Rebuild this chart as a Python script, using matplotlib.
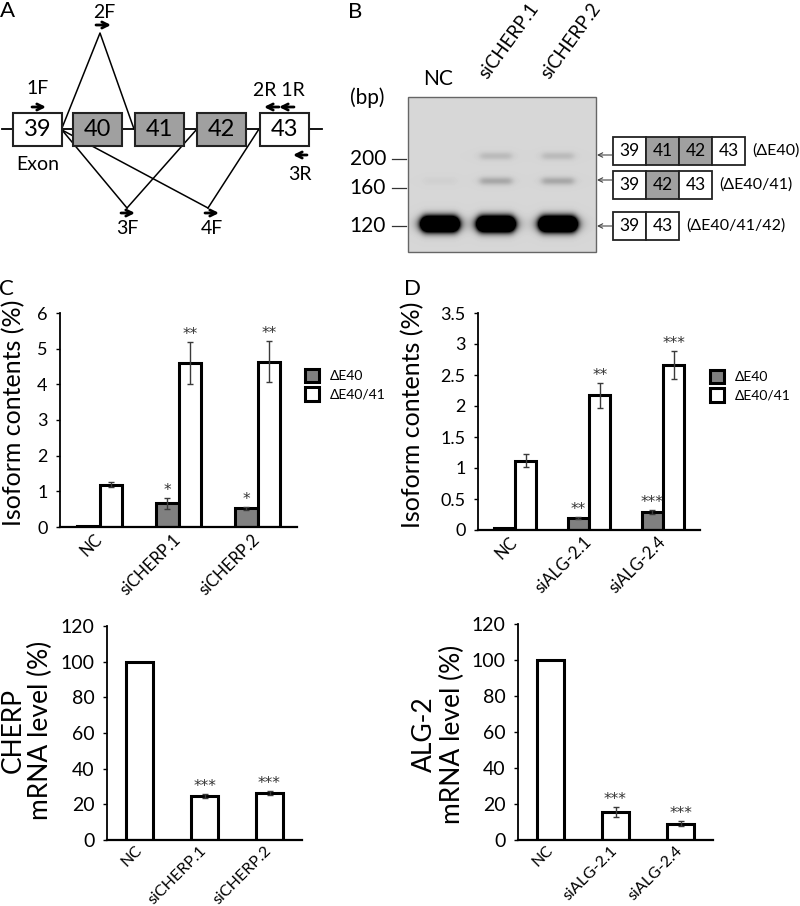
import numpy as np
import matplotlib.pyplot as plt
from matplotlib.patches import Rectangle

plt.rcParams['font.family'] = ['Lato', 'DejaVu Sans']

# ---- datos de los paneles C-F ----
groups_C = ['NC', 'siCHERP.1', 'siCHERP.2']
C_dE40 = [0.03, 0.66, 0.52]
C_dE40_err = [0.0, 0.15, 0.05]
C_dE4041 = [1.18, 4.61, 4.64]
C_dE4041_err = [0.07, 0.59, 0.57]
C_sig_dE40 = ['', '*', '*']
C_sig_dE4041 = ['', '**', '**']

groups_D = ['NC', 'siALG-2.1', 'siALG-2.4']
D_dE40 = [0.04, 0.19, 0.29]
D_dE40_err = [0.0, 0.02, 0.03]
D_dE4041 = [1.12, 2.17, 2.66]
D_dE4041_err = [0.11, 0.20, 0.23]
D_sig_dE40 = ['', '**', '***']
D_sig_dE4041 = ['', '**', '***']

E_cherp = [100, 24.8, 26.3]
E_cherp_err = [0, 1.0, 0.9]
E_sig = ['', '***', '***']

F_alg2 = [100, 15.7, 9.1]
F_alg2_err = [0, 2.8, 1.5]
F_sig = ['', '***', '***']

# ---- datos del gel (panel B) ----
lanes = ['NC', 'siCHERP.1', 'siCHERP.2']
marker_bp = [200, 160, 120]
band_bp = [200, 160, 120]
band_intensity = [[0.0, 0.03, 1.0],    # NC
                  [0.13, 0.22, 1.0],   # siCHERP.1
                  [0.13, 0.22, 1.0]]   # siCHERP.2
isoforms = [['39', '41', '42', '43'], ['39', '42', '43'], ['39', '43']]
isoform_names = ['(ΔE40)', '(ΔE40/41)', '(ΔE40/41/42)']

W, H = 800, 906
fig = plt.figure(figsize=(W / 100, H / 100), dpi=100)

# ejes de fondo en pixeles para los esquemas A y B
ax0 = fig.add_axes([0, 0, 1, 1])
ax0.set_xlim(0, W)
ax0.set_ylim(H, 0)
ax0.axis('off')


def px_axes(l, t, r, b):
    return fig.add_axes([l / W, 1 - b / H, (r - l) / W, (b - t) / H])


def arrow(x0, y0, x1, y1, lw=2.0, ms=11, color='black'):
    ax0.annotate('', xy=(x1, y1), xytext=(x0, y0),
                 arrowprops=dict(arrowstyle='->', lw=lw, color=color,
                                 mutation_scale=ms, shrinkA=0, shrinkB=0))


# ================= Panel A =================
ax0.text(8, 11, 'A', fontsize=16, ha='center', va='center')
ax0.plot([2, 322], [129, 129], color='black', lw=1.3, zorder=1)
exon_x = [13, 73, 135, 197, 260]
exon_names = ['39', '40', '41', '42', '43']
exon_fill = ['white', '#a0a0a0', '#a0a0a0', '#a0a0a0', 'white']
for x, name, fc in zip(exon_x, exon_names, exon_fill):
    ax0.add_patch(Rectangle((x, 113), 49, 33, facecolor=fc,
                            edgecolor='#222222', lw=1.5, zorder=2))
    ax0.text(x + 24.5, 130, name, fontsize=17, ha='center', va='center', zorder=3)

line_kw = dict(color='black', lw=1.1, zorder=1)
ax0.plot([62, 100, 134], [128, 33, 129], **line_kw)
ax0.plot([62, 127], [130, 208], **line_kw)
ax0.plot([62, 208], [130, 208], **line_kw)
ax0.plot([197, 127], [129, 208], **line_kw)
ax0.plot([259, 208], [129, 208], **line_kw)

arrow(32, 107, 46, 107)
arrow(96, 25, 111, 25)
arrow(279, 107, 264, 107)
arrow(294, 107, 279, 107)
arrow(307, 155, 293, 155)
arrow(121, 213, 135, 213)
arrow(205, 213, 219, 213)
for txt, x, y in [('1F', 38, 89), ('2F', 104, 12), ('2R 1R', 279, 90), ('3R', 300, 174),
                  ('Exon', 38, 165), ('3F', 127, 228), ('4F', 212, 228)]:
    ax0.text(x, y, txt, fontsize=14, ha='center', va='center')

# ================= Panel B =================
ax0.text(355, 12, 'B', fontsize=16, ha='center', va='center')
gx0, gx1, gy0, gy1 = 408, 596, 97, 252
lane_x = [440, 496, 558]
marker_y = {200: 159, 160: 188, 120: 226}
band_y = {200: 156, 160: 181, 120: 224}

yy, xx = np.mgrid[gy0:gy1, gx0:gx1] + 0.5
dark = np.zeros_like(xx)
for i, xc in enumerate(lane_x):
    for j, bp in enumerate(band_bp):
        I = band_intensity[i][j]
        if I <= 0:
            continue
        main = bp == 120
        hw = 18 if main else 16
        sy = 7.5 if main else 4.0
        gain = 3.0 if main else 1.0
        hprof = 1 / (1 + ((xx - xc) / hw) ** 8)
        vprof = np.exp(-((yy - band_y[bp]) / sy) ** 2)
        dark += I * gain * hprof * vprof
gel = 0.84 * (1 - np.clip(dark, 0, 1))
ax0.imshow(gel, cmap='gray', vmin=0, vmax=1, extent=(gx0, gx1, gy1, gy0),
           aspect='auto', interpolation='bilinear', zorder=1)
ax0.add_patch(Rectangle((gx0, gy0), gx1 - gx0, gy1 - gy0, fill=False,
                        edgecolor='#666666', lw=1.0, zorder=2))

ax0.text(367, 98, '(bp)', fontsize=15, ha='center', va='center')
for bp in marker_bp:
    y = marker_y[bp]
    ax0.text(386, y, str(bp), fontsize=15, ha='right', va='center')
    ax0.plot([392, 406], [y, y], color='#333333', lw=0.9)

ax0.text(438, 79, lanes[0], fontsize=15, ha='center', va='center')
for name, x in zip(lanes[1:], lane_x[1:]):
    ax0.text(x - 6, 82, name, fontsize=13.5, rotation=54, ha='left', va='bottom',
             rotation_mode='anchor')

iso_y = [137, 171, 212]
seg_w = 33
for segs, y, lab in zip(isoforms, iso_y, isoform_names):
    for k, s in enumerate(segs):
        fc = '#a0a0a0' if s in ('41', '42') else 'white'
        ax0.add_patch(Rectangle((613 + k * seg_w, y), seg_w, 28, facecolor=fc,
                                edgecolor='#222222', lw=1.3))
        ax0.text(613 + k * seg_w + seg_w / 2, y + 14, s, fontsize=12.5,
                 ha='center', va='center')
    ax0.text(613 + len(segs) * seg_w + 7, y + 14, lab, fontsize=11.5,
             ha='left', va='center')
for y in [155, 180, 226]:
    arrow(612, y, 597, y, lw=0.8, ms=8, color='#444444')


# ================= Paneles C y D =================
def style_axes(ax):
    for s in ['top', 'right']:
        ax.spines[s].set_visible(False)
    ax.spines['left'].set_linewidth(1.3)
    ax.spines['bottom'].set_linewidth(1.6)
    ax.tick_params(axis='y', length=3, width=1, labelsize=13, pad=6)
    ax.tick_params(axis='x', length=0, labelsize=12, pad=7)


def stars(ax, xi, top, s, off):
    if s:
        ax.text(xi, top + off, s, fontsize=11, ha='center', va='bottom',
                color='#333333', family='DejaVu Sans')


def paired_bars(ax, groups, a, a_err, b, b_err, a_sig, b_sig, ylim, yticks, ylabel):
    x = np.arange(len(groups))
    w = 0.29
    ax.bar(x - w / 2, a, w, color='#808080', edgecolor='black', lw=2.2, label='ΔE40')
    ax.bar(x + w / 2, b, w, color='white', edgecolor='black', lw=2.2, label='ΔE40/41')
    for xs, vals, errs, sigs in [(x - w / 2, a, a_err, a_sig), (x + w / 2, b, b_err, b_sig)]:
        for xi, v, e, s in zip(xs, vals, errs, sigs):
            if e > 0:
                ax.errorbar(xi, v, yerr=e, fmt='none', ecolor='#3a3a3a', elinewidth=1, capsize=2.5)
            stars(ax, xi, v + e, s, ylim[1] * 0.0)
    ax.set_xlim(-0.5, len(groups) - 0.5)
    ax.set_ylim(*ylim)
    ax.set_yticks(yticks)
    ax.set_yticklabels([('%g' % t) for t in yticks])
    ax.set_xticks(x)
    ax.set_xticklabels(groups, rotation=45, ha='right', va='center', rotation_mode='anchor')
    style_axes(ax)
    ax.set_ylabel(ylabel, fontsize=18)


leg_kw = dict(loc='upper left', bbox_transform=fig.transFigure, frameon=False, fontsize=10,
              handlelength=1.0, handleheight=1.1, handletextpad=0.8,
              labelspacing=0.35, borderaxespad=0, borderpad=0)

axC = px_axes(60, 313, 297, 527)
paired_bars(axC, groups_C, C_dE40, C_dE40_err, C_dE4041, C_dE4041_err,
            C_sig_dE40, C_sig_dE4041, (0, 6), [0, 1, 2, 3, 4, 5, 6], 'Isoform contents (%)')
axC.yaxis.set_label_coords(-0.148, 0.535)
axC.legend(bbox_to_anchor=(305 / W, 1 - 369 / H), **leg_kw)
ax0.text(6, 289, 'C', fontsize=16, ha='center', va='center')

axD = px_axes(478, 313, 700, 530)
paired_bars(axD, groups_D, D_dE40, D_dE40_err, D_dE4041, D_dE4041_err,
            D_sig_dE40, D_sig_dE4041, (0, 3.5), [0, 0.5, 1, 1.5, 2, 2.5, 3, 3.5], 'Isoform contents (%)')
axD.yaxis.set_label_coords(-0.24, 0.53)
axD.legend(bbox_to_anchor=(710 / W, 1 - 370 / H), **leg_kw)
ax0.text(413, 289, 'D', fontsize=16, ha='center', va='center')


# ================= Paneles inferiores =================
def single_bars(ax, groups, vals, errs, sig, ylabel):
    x = np.arange(len(groups))
    ax.bar(x, vals, 0.42, color='white', edgecolor='black', lw=2.2)
    for xi, v, e, s in zip(x, vals, errs, sig):
        if e > 0:
            ax.errorbar(xi, v, yerr=e, fmt='none', ecolor='#3a3a3a', elinewidth=1, capsize=2.5)
        stars(ax, xi, v + e, s, 0.0)
    ax.set_xlim(-0.5, len(groups) - 0.5)
    ax.set_ylim(0, 120)
    ax.set_yticks(range(0, 121, 20))
    ax.set_xticks(x)
    ax.set_xticklabels(groups, rotation=45, ha='right', va='center', rotation_mode='anchor')
    style_axes(ax)
    ax.tick_params(axis='y', labelsize=14)
    ax.tick_params(axis='x', pad=6, labelsize=11.5)
    ax.set_ylabel(ylabel, fontsize=19, linespacing=1.15)


axE = px_axes(107, 626, 302, 840)
single_bars(axE, groups_C, E_cherp, E_cherp_err, E_sig, 'CHERP\nmRNA level (%)')
axE.yaxis.set_label_coords(-0.275, 0.51)

axF = px_axes(518, 624, 713, 840)
single_bars(axF, groups_D, F_alg2, F_alg2_err, F_sig, 'ALG-2\nmRNA level (%)')
axF.yaxis.set_label_coords(-0.27, 0.49)

fig.savefig('out.png', dpi=100)
